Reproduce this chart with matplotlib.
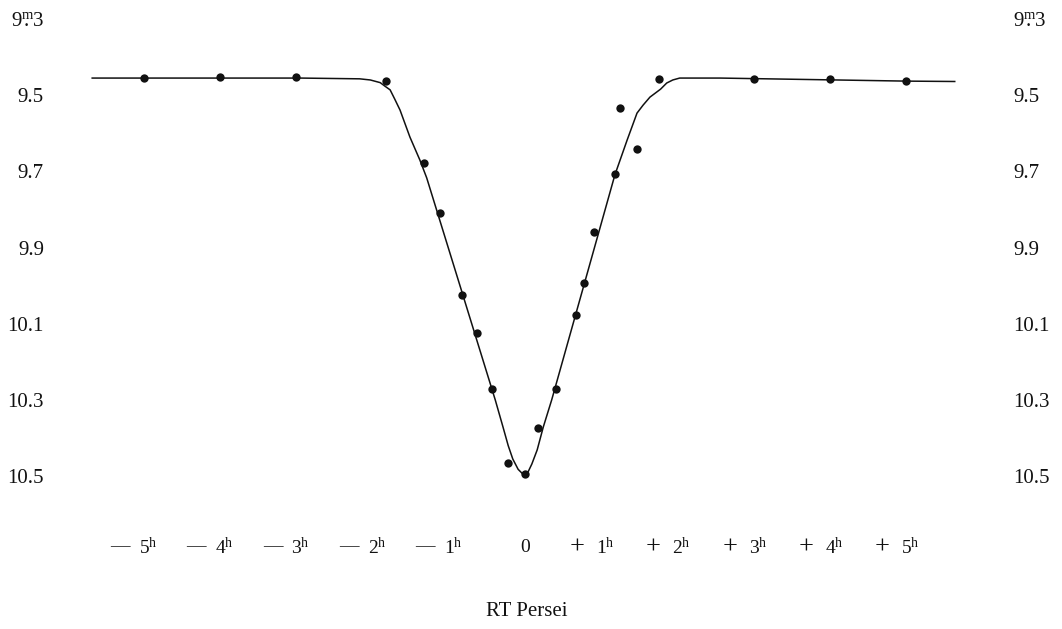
import matplotlib
matplotlib.use('Agg')
import matplotlib.pyplot as plt
import matplotlib.transforms as mtrans

plt.rcParams['font.family'] = ['Liberation Serif', 'DejaVu Serif']
plt.rcParams['mathtext.fontset'] = 'custom'
plt.rcParams['mathtext.rm'] = 'Liberation Serif'
plt.rcParams['mathtext.it'] = 'Liberation Serif:italic'

# observations : temps (heures depuis le minimum) et magnitudes
obs_t = [-5.0, -4.0, -3.0, -1.82, -1.33, -1.12, -0.83, -0.63, -0.43, -0.22,
         0.0, 0.17, 0.41, 0.67, 0.77, 0.91, 1.18, 1.25, 1.47, 1.76,
         3.0, 4.0, 5.0]
obs_mag = [9.455, 9.452, 9.452, 9.462, 9.678, 9.809, 10.024, 10.124, 10.271, 10.465,
           10.494, 10.373, 10.271, 10.077, 9.993, 9.859, 9.707, 9.534, 9.641, 9.457,
           9.457, 9.457, 9.463]

# courbe moyenne tracee a la main
courbe_t = [-5.68, -2.95, -2.17, -2.03, -1.90, -1.84, -1.77, -1.71, -1.64, -1.51,
            -1.38, -1.29, -0.39, -0.29, -0.22, -0.16, -0.09, -0.03, 0.04, 0.09,
            0.16, 0.24, 0.35, 1.18, 1.34, 1.47, 1.55, 1.64, 1.78, 1.86,
            1.94, 2.03, 2.56, 5.0, 5.64]
courbe_mag = [9.455, 9.455, 9.457, 9.460, 9.467, 9.476, 9.486, 9.510, 9.539, 9.610,
              9.670, 9.717, 10.300, 10.370, 10.420, 10.455, 10.482, 10.494, 10.489, 10.468,
              10.431, 10.371, 10.300, 9.709, 9.618, 9.547, 9.526, 9.505, 9.484, 9.468,
              9.460, 9.455, 9.455, 9.463, 9.464]

mag_ticks = [9.3, 9.5, 9.7, 9.9, 10.1, 10.3, 10.5]
mag_labels = [r'$9\overset{\mathrm{m}}{.}3$', '9.5', '9.7', '9.9', '10.1', '10.3', '10.5']

heures = [-5, -4, -3, -2, -1, 0, 1, 2, 3, 4, 5]

fig = plt.figure(figsize=(10.62, 6.29), dpi=100)
ax = fig.add_axes([49 / 1062, 1 - 500 / 629, 959 / 1062, 500 / 629])

ax.plot(courbe_t, courbe_mag, color='#111111', lw=1.1)
ax.plot(obs_t, obs_mag, 'o', color='#111111', ms=6, mec='none')

ax.set_xlim(-6.247, 6.339)
ax.set_ylim(10.5625, 9.2501)

ax.set_yticks(mag_ticks)
ax.set_yticklabels(mag_labels)
ax.tick_params(axis='y', length=0, pad=3.6, labelsize=15, labelright=True, colors='#111111')
ax.set_xticks([])
for s in ax.spines.values():
    s.set_visible(False)

# etiquettes des heures : signe decale a gauche, chiffre centre sur la graduation
y_lab = 10.686
tr_signe = mtrans.offset_copy(ax.transData, fig=fig, x=-24, y=0, units='dots')
tr_chiffre = mtrans.offset_copy(ax.transData, fig=fig, x=-5, y=0, units='dots')
for h in heures:
    if h == 0:
        ax.text(h, y_lab, '0', ha='center', va='center', fontsize=14,
                color='#111111', clip_on=False)
        continue
    signe = '\u2014' if h < 0 else '+'
    ax.text(h, y_lab, signe, ha='center', va='center', fontsize=14 if h < 0 else 19,
            color='#111111', transform=tr_signe, clip_on=False)
    ax.text(h, y_lab, r'$%d^{\mathrm{h}}$' % abs(h), ha='left', va='center',
            fontsize=14, color='#111111', transform=tr_chiffre, clip_on=False)

fig.text(527 / 1062, 1 - 612 / 629, 'RT Persei', ha='center', va='center',
         fontsize=15, color='#111111')

plt.savefig('out.png', dpi=100)
plt.close()
